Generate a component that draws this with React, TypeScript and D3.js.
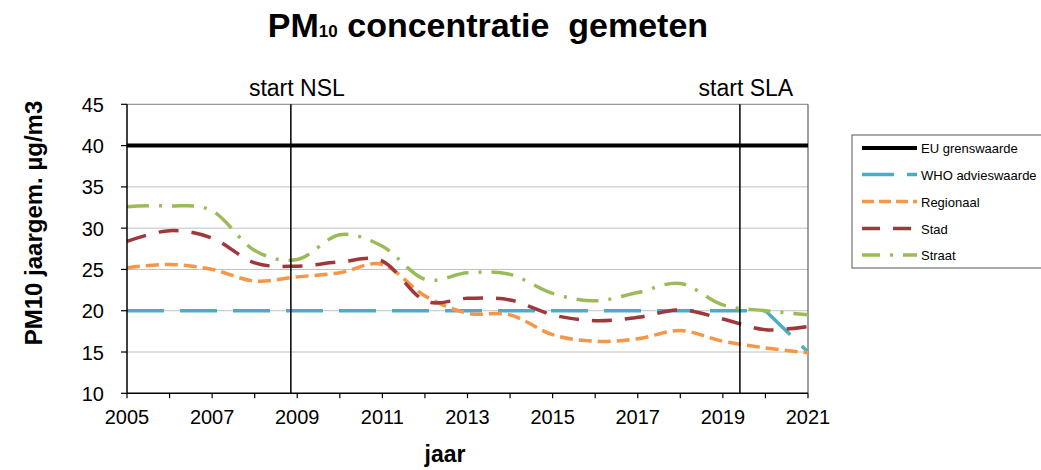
import React from "react";
import * as d3 from "d3";

const years = [2005, 2006, 2007, 2008, 2009, 2010, 2011, 2012, 2013, 2014, 2015, 2016, 2017, 2018, 2019, 2020, 2021];
const euValues = [40, 40, 40, 40, 40, 40, 40, 40, 40, 40, 40, 40, 40, 40, 40, 40, 40];
const whoValues = [20, 20, 20, 20, 20, 20, 20, 20, 20, 20, 20, 20, 20, 20, 20, 20, 15];
const regionaalValues = [25.2, 25.6, 25.0, 23.6, 24.1, 24.6, 25.6, 21.8, 19.7, 19.5, 17.1, 16.3, 16.6, 17.6, 16.3, 15.5, 14.9];
const stadValues = [28.4, 29.7, 28.8, 25.8, 25.4, 25.9, 26.0, 21.2, 21.5, 21.3, 19.5, 18.8, 19.2, 20.1, 19.0, 17.7, 18.1];
const straatValues = [32.6, 32.7, 32.1, 27.3, 26.2, 29.2, 27.8, 23.8, 24.6, 24.4, 22.1, 21.2, 22.2, 23.3, 20.7, 20.0, 19.5];
const yTicks = [10, 15, 20, 25, 30, 35, 40, 45];
const xTickLabels = [2005, 2007, 2009, 2011, 2013, 2015, 2017, 2019, 2021];
const markers = [
  { label: "start NSL", year: 2008.85 },
  { label: "start SLA", year: 2019.4 },
];

const series = [
  { name: "EU grenswaarde", values: euValues, color: "#000000", width: 4, dash: "", legendDash: "", curve: "linear" },
  { name: "WHO advieswaarde", values: whoValues, color: "#4bacc6", width: 3.5, dash: "37 16", legendDash: "32 13", curve: "linear" },
  { name: "Regionaal", values: regionaalValues, color: "#f79646", width: 3.5, dash: "13 6", legendDash: "12 5", curve: "smooth" },
  { name: "Stad", values: stadValues, color: "#a0373a", width: 3.5, dash: "20 13", legendDash: "18 13", curve: "smooth" },
  { name: "Straat", values: straatValues, color: "#9bbb59", width: 3.5, dash: "22 10 3 10", legendDash: "18 10 3 10", curve: "smooth" },
];

const FONT = "'Liberation Sans', Arial, sans-serif";

export default function App() {
  const left = 127, right = 808, top = 104.3, bottom = 393.3;
  const x = d3.scaleLinear().domain([2005, 2021]).range([left, right]);
  const y = d3.scaleLinear().domain([10, 45]).range([bottom, top]);

  const mkLine = (curve: string) =>
    d3
      .line<number>()
      .x((_, i) => x(years[i]))
      .y((v) => y(v))
      .curve(curve === "smooth" ? d3.curveCatmullRom.alpha(0) : d3.curveLinear);

  const legendX = 852, legendY = 135;
  const legendRows = [148, 174.5, 201.5, 228.5, 255];

  return (
    <div style={{ position: "absolute", left: 0, top: 0 }}>
      <svg width={1041} height={470} style={{ display: "block", background: "#fff" }} fontFamily={FONT}>
        {/* title */}
        <text x={488} y={37} textAnchor="middle" fontSize={34} fontWeight="bold" fill="#000">
          PM<tspan fontSize={17}>10</tspan> concentratie{"\u00a0"} gemeten
        </text>

        {/* gridlines */}
        {yTicks.filter((t) => t > 10 && t < 45).map((t) => (
          <line key={"g" + t} x1={left} x2={right} y1={y(t)} y2={y(t)} stroke="#c0c0c0" strokeWidth={1} />
        ))}

        {/* plot frame */}
        <line x1={left} x2={right} y1={top} y2={top} stroke="#808080" strokeWidth={1} />
        <line x1={right} x2={right} y1={top} y2={bottom} stroke="#404040" strokeWidth={1} />

        {/* series lines */}
        {series.map((s) => (
          <path
            key={s.name}
            d={mkLine(s.curve)(s.values) || ""}
            fill="none"
            stroke={s.color}
            strokeWidth={s.width}
            strokeDasharray={s.dash || undefined}
          />
        ))}

        {/* marker vertical lines */}
        {markers.map((m) => (
          <g key={m.label}>
            <line x1={x(m.year)} x2={x(m.year)} y1={top} y2={bottom} stroke="#000" strokeWidth={1.5} />
            <text x={x(m.year) + 6} y={96} textAnchor="middle" fontSize={23} fill="#000">
              {m.label}
            </text>
          </g>
        ))}

        {/* axes */}
        <line x1={left} x2={left} y1={top} y2={bottom} stroke="#000" strokeWidth={1.5} />
        <line x1={left} x2={right} y1={bottom} y2={bottom} stroke="#000" strokeWidth={1.5} />
        {yTicks.map((t) => (
          <g key={"y" + t}>
            <line x1={left - 6} x2={left} y1={y(t)} y2={y(t)} stroke="#000" strokeWidth={1.2} />
            <text x={left - 23} y={y(t) + 7.5} textAnchor="end" fontSize={20} fill="#000">
              {t}
            </text>
          </g>
        ))}
        {years.map((yr) => (
          <line key={"xt" + yr} x1={x(yr)} x2={x(yr)} y1={bottom} y2={bottom + 5} stroke="#000" strokeWidth={1.2} />
        ))}
        {xTickLabels.map((yr) => (
          <text key={"xl" + yr} x={x(yr)} y={424} textAnchor="middle" fontSize={20} fill="#000">
            {yr}
          </text>
        ))}

        {/* axis titles */}
        <text x={445} y={462} textAnchor="middle" fontSize={23} fontWeight="bold" fill="#000">
          jaar
        </text>
        <text
          transform={`translate(42, 223) rotate(-90)`}
          textAnchor="middle"
          fontSize={24}
          fontWeight="bold"
          fill="#000"
        >
          PM10 jaargem. µg/m3
        </text>

        {/* legend */}
        <rect x={legendX} y={legendY} width={200} height={133} fill="#fff" stroke="#555" strokeWidth={1} />
        {series.map((s, i) => (
          <g key={"lg" + s.name}>
            <line
              x1={862}
              x2={917}
              y1={legendRows[i]}
              y2={legendRows[i]}
              stroke={s.color}
              strokeWidth={s.width}
              strokeDasharray={s.legendDash || undefined}
            />
            <text x={921} y={legendRows[i] + 5} fontSize={13} fill="#000">
              {s.name}
            </text>
          </g>
        ))}
      </svg>
    </div>
  );
}
